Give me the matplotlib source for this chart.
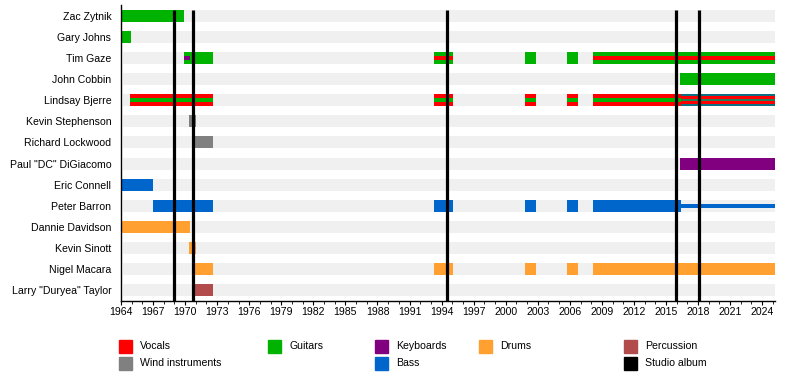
import matplotlib.pyplot as plt
from matplotlib.patches import Rectangle

plt.rcParams['font.family'] = ['Liberation Sans', 'DejaVu Sans']

members = ['Zac Zytnik', 'Gary Johns', 'Tim Gaze', 'John Cobbin', 'Lindsay Bjerre',
           'Kevin Stephenson', 'Richard Lockwood', 'Paul "DC" DiGiacomo', 'Eric Connell',
           'Peter Barron', 'Dannie Davidson', 'Kevin Sinott', 'Nigel Macara',
           'Larry "Duryea" Taylor']

start_year = 1964
end_year = 2025.2

colors = {
    'Vocals': '#ff0000',
    'Guitars': '#00b300',
    'Keyboards': '#800080',
    'Drums': '#ffa030',
    'Percussion': '#b24b4b',
    'Wind instruments': '#808080',
    'Bass': '#0066cc',
    'Studio album': '#000000',
    'Mixed': '#0d6f80',
}

# member, start, end, main role, stripe role
seg_member = ['Zac Zytnik', 'Gary Johns',
              'Tim Gaze', 'Tim Gaze', 'Tim Gaze', 'Tim Gaze', 'Tim Gaze', 'Tim Gaze',
              'John Cobbin',
              'Lindsay Bjerre', 'Lindsay Bjerre', 'Lindsay Bjerre', 'Lindsay Bjerre',
              'Lindsay Bjerre', 'Lindsay Bjerre',
              'Kevin Stephenson', 'Richard Lockwood', 'Paul "DC" DiGiacomo', 'Eric Connell',
              'Peter Barron', 'Peter Barron', 'Peter Barron', 'Peter Barron', 'Peter Barron',
              'Dannie Davidson', 'Kevin Sinott',
              'Nigel Macara', 'Nigel Macara', 'Nigel Macara', 'Nigel Macara', 'Nigel Macara',
              'Larry "Duryea" Taylor']
seg_start = [1964, 1964,
             1969.85, 1970.5, 1993.3, 2001.8, 2005.7, 2008.2,
             2016.3,
             1964.8, 1993.3, 2001.8, 2005.7, 2008.2, 2016.4,
             1970.4, 1970.9, 2016.3, 1964,
             1966.95, 1993.3, 2001.8, 2005.7, 2008.2,
             1964, 1970.4,
             1970.9, 1993.3, 2001.8, 2005.7, 2008.2,
             1970.9]
seg_end = [1969.9, 1964.9,
           1970.5, 1972.6, 1995.1, 2002.8, 2006.8, end_year,
           end_year,
           1972.6, 1995.1, 2002.8, 2006.8, 2016.4, end_year,
           1971.0, 1972.6, end_year, 1967.0,
           1972.6, 1995.1, 2002.8, 2006.8, 2016.4,
           1970.5, 1971.0,
           1972.6, 1995.1, 2002.8, 2006.8, end_year,
           1972.6]
seg_role = ['Guitars', 'Guitars',
            'Guitars', 'Guitars', 'Guitars', 'Guitars', 'Guitars', 'Guitars',
            'Guitars',
            'Vocals', 'Vocals', 'Vocals', 'Vocals', 'Vocals', 'Mixed',
            'Wind instruments', 'Wind instruments', 'Keyboards', 'Bass',
            'Bass', 'Bass', 'Bass', 'Bass', 'Bass',
            'Drums', 'Drums',
            'Drums', 'Drums', 'Drums', 'Drums', 'Drums',
            'Percussion']
seg_stripe = [None, None,
              'Keyboards', None, 'Vocals', None, None, 'Vocals',
              None,
              'Guitars', 'Guitars', 'Guitars', 'Guitars', 'Guitars', 'Vocals',
              None, None, None, None,
              None, None, None, None, None,
              None, None,
              None, None, None, None, None,
              None]

# thin "inactive" line
thin_member = ['Peter Barron']
thin_start = [2016.4]
thin_end = [end_year]

albums = [1969.0, 1970.7, 1994.5, 2015.9, 2018.1]

legend_rows = [['Vocals', 'Guitars', 'Keyboards', 'Drums', 'Percussion'],
               ['Wind instruments', None, 'Bass', None, 'Studio album']]

fig = plt.figure(figsize=(7.9, 3.76), dpi=100)
ax = fig.add_axes([121 / 790, 1 - 301 / 376, (775 - 121) / 790, 296 / 376])

ypos = {m: i for i, m in enumerate(members)}
bh = 0.57

# background bands
ax.barh(range(len(members)), end_year - start_year - 0.2, left=start_year + 0.2,
        height=bh, color='#f0f0f0', zorder=1)

for m, s, e, r, st in zip(seg_member, seg_start, seg_end, seg_role, seg_stripe):
    y = ypos[m]
    ax.barh(y, e - s, left=s, height=bh, color=colors[r], zorder=2)
    if r == 'Mixed':
        ax.barh(y, e - s, left=s, height=bh * 0.72, color=colors['Vocals'], zorder=3)
        ax.barh(y, e - s, left=s, height=bh * 0.18, color='#2a7a55', zorder=4)
    elif st is not None:
        ax.barh(y, e - s, left=s, height=bh * 0.34, color=colors[st], zorder=3)

for m, s, e in zip(thin_member, thin_start, thin_end):
    ax.barh(ypos[m], e - s, left=s, height=0.19, color=colors['Bass'], zorder=2)

ax.vlines(albums, len(members) - 0.5, -bh / 2, color='black', linewidth=2.3, zorder=5)

ax.set_xlim(start_year, end_year)
ax.set_ylim(len(members) - 0.5, -0.5)
ax.set_yticks(range(len(members)))
ax.set_yticklabels(members, fontsize=7.6)
ax.tick_params(axis='y', length=0, pad=7)
ax.set_xticks(range(1964, 2025, 3))
ax.set_xticks(range(1964, 2026), minor=True)
ax.tick_params(axis='x', which='major', length=3, labelsize=7.6, pad=1.5)
ax.tick_params(axis='x', which='minor', length=2)
for sp in ['top', 'right']:
    ax.spines[sp].set_visible(False)
for sp in ['left', 'bottom']:
    ax.spines[sp].set_linewidth(1.0)

# legend in pixel coordinates
lax = fig.add_axes([0, 0, 1, 1])
lax.set_xlim(0, 790)
lax.set_ylim(376, 0)
lax.axis('off')
col_text_x = [140, 289, 396, 500, 645]
row_y = [346, 363]
for ri, row in enumerate(legend_rows):
    for ci, name in enumerate(row):
        if name is None:
            continue
        lax.add_patch(Rectangle((col_text_x[ci] - 21, row_y[ri] - 6.5), 12.5, 13,
                                color=colors[name]))
        lax.text(col_text_x[ci], row_y[ri], name, fontsize=7.6, va='center', ha='left')

fig.savefig('out.png', dpi=100)
